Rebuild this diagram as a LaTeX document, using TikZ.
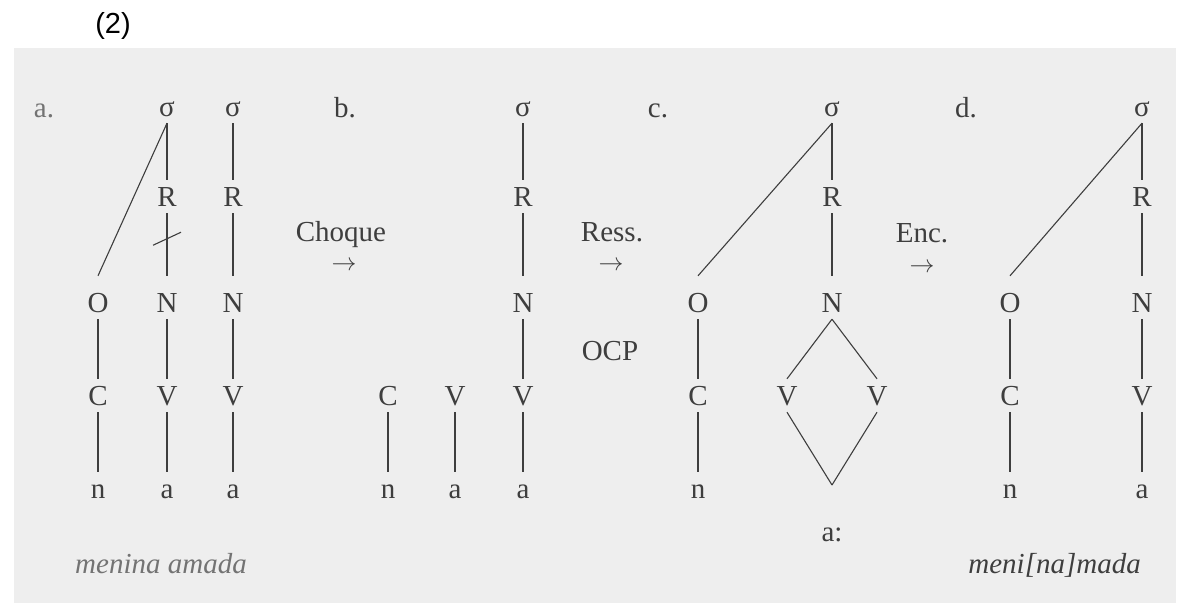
\documentclass[tikz,border=0pt]{standalone}
\usepackage{fontspec}
\setmainfont{Liberation Serif}
\newfontfamily\labelsans{Liberation Sans}
\definecolor{ink}{RGB}{62,62,62}
\definecolor{lightink}{RGB}{115,115,115}
\definecolor{pagegray}{RGB}{238,238,238}
\begin{document}
\begin{tikzpicture}[x=1pt,y=-1pt,
  lt/.style={font=\fontsize{29}{34}\selectfont, text=ink, anchor=base, inner xsep=0pt, inner ysep=7pt, text height=19pt, text depth=0pt},
  hi/.style={lt, text height=29pt},
  word/.style={font=\fontsize{29}{34}\selectfont, text=ink, anchor=base, inner sep=0pt},
  arr/.style={font=\fontsize{31}{34}\selectfont, text=ink, inner sep=0pt, anchor=center},
  capt/.style={word, font=\fontsize{29}{34}\selectfont\itshape},
  ln/.style={draw=ink, line width=1.1pt}]
\useasboundingbox (0,0) rectangle (1188,603);
\fill[white] (0,0) rectangle (1188,603);
\fill[pagegray] (14,48) rectangle (1176,603);

\node[font=\labelsans\fontsize{29}{34}\selectfont, text=black, inner sep=0pt] (num) at (113,26) {(2)};

% ---- a ----
\node[word, text=lightink] (la) at (44,117) {a.};
\node[lt] (sa1) at (167,116) {σ};
\node[lt] (sa2) at (233,116) {σ};
\node[lt] (ra1) at (167,206) {R};
\node[lt] (ra2) at (233,206) {R};
\node[hi] (oa) at (98,312) {O};
\node[hi] (na1) at (167,312) {N};
\node[hi] (na2) at (233,312) {N};
\node[lt] (ca) at (98,405) {C};
\node[lt] (va1) at (167,405) {V};
\node[lt] (va2) at (233,405) {V};
\node[lt] (xa1) at (98,498) {n};
\node[lt] (xa2) at (167,498) {a};
\node[lt] (xa3) at (233,498) {a};
\draw[ln] (sa1.south) -- (ra1.north);
\draw[ln] (ra1.south) -- (na1.north) coordinate[pos=0.4] (tick);
\draw[ln] ([shift={(-14,7)}]tick) -- ([shift={(14,-6)}]tick);
\draw[ln] (na1.south) -- (va1.north);
\draw[ln] (va1.south) -- (xa2.north);
\draw[ln] (sa1.south) -- (oa.north);
\draw[ln] (oa.south) -- (ca.north);
\draw[ln] (ca.south) -- (xa1.north);
\draw[ln] (sa2.south) -- (ra2.north);
\draw[ln] (ra2.south) -- (na2.north);
\draw[ln] (na2.south) -- (va2.north);
\draw[ln] (va2.south) -- (xa3.north);
\node[capt, text=lightink, anchor=base west] (capa) at (75,573) {menina amada};

% ---- b ----
\node[word] (lb) at (345,117) {b.};
\node[word] (choque) at (341,241) {Choque};
\node[arr] (arrb) at (344,266) {$\rightarrow$};
\node[lt] (sb) at (523,116) {σ};
\node[lt] (rb) at (523,206) {R};
\node[hi] (nb) at (523,312) {N};
\node[lt] (cb) at (388,405) {C};
\node[lt] (vb1) at (455,405) {V};
\node[lt] (vb2) at (523,405) {V};
\node[lt] (xb1) at (388,498) {n};
\node[lt] (xb2) at (455,498) {a};
\node[lt] (xb3) at (523,498) {a};
\draw[ln] (sb.south) -- (rb.north);
\draw[ln] (rb.south) -- (nb.north);
\draw[ln] (nb.south) -- (vb2.north);
\draw[ln] (cb.south) -- (xb1.north);
\draw[ln] (vb1.south) -- (xb2.north);
\draw[ln] (vb2.south) -- (xb3.north);

% ---- c ----
\node[word] (lc) at (658,117) {c.};
\node[word] (ress) at (612,241) {Ress.};
\node[arr] (arrc) at (611,266) {$\rightarrow$};
\node[word] (ocp) at (610,360) {OCP};
\node[lt] (sc) at (832,116) {σ};
\node[lt] (rc) at (832,206) {R};
\node[hi] (oc) at (698,312) {O};
\node[hi] (nc) at (832,312) {N};
\node[lt] (cc) at (698,405) {C};
\node[lt] (vc1) at (787,405) {V};
\node[lt] (vc2) at (877,405) {V};
\node[lt] (xc) at (698,498) {n};
\coordinate (apex) at (832,485);
\node[lt] (long) at (832,541) {a:};
\draw[ln] (sc.south) -- (rc.north);
\draw[ln] (rc.south) -- (nc.north);
\draw[ln] (sc.south) -- (oc.north);
\draw[ln] (oc.south) -- (cc.north);
\draw[ln] (cc.south) -- (xc.north);
\draw[ln] (nc.south) -- (vc1.north);
\draw[ln] (nc.south) -- (vc2.north);
\draw[ln] (vc1.south) -- (apex);
\draw[ln] (vc2.south) -- (apex);

% ---- d ----
\node[word] (ld) at (966,117) {d.};
\node[word] (enc) at (922,242) {Enc.};
\node[arr] (arrd) at (922,268) {$\rightarrow$};
\node[lt] (sd) at (1142,116) {σ};
\node[lt] (rd) at (1142,206) {R};
\node[hi] (od) at (1010,312) {O};
\node[hi] (nd) at (1142,312) {N};
\node[lt] (cd) at (1010,405) {C};
\node[lt] (vd) at (1142,405) {V};
\node[lt] (xd1) at (1010,498) {n};
\node[lt] (xd2) at (1142,498) {a};
\draw[ln] (sd.south) -- (rd.north);
\draw[ln] (rd.south) -- (nd.north);
\draw[ln] (nd.south) -- (vd.north);
\draw[ln] (vd.south) -- (xd2.north);
\draw[ln] (sd.south) -- (od.north);
\draw[ln] (od.south) -- (cd.north);
\draw[ln] (cd.south) -- (xd1.north);
\node[capt, anchor=base east] (capd) at (1141,573) {meni[na]mada};
\end{tikzpicture}
\end{document}
